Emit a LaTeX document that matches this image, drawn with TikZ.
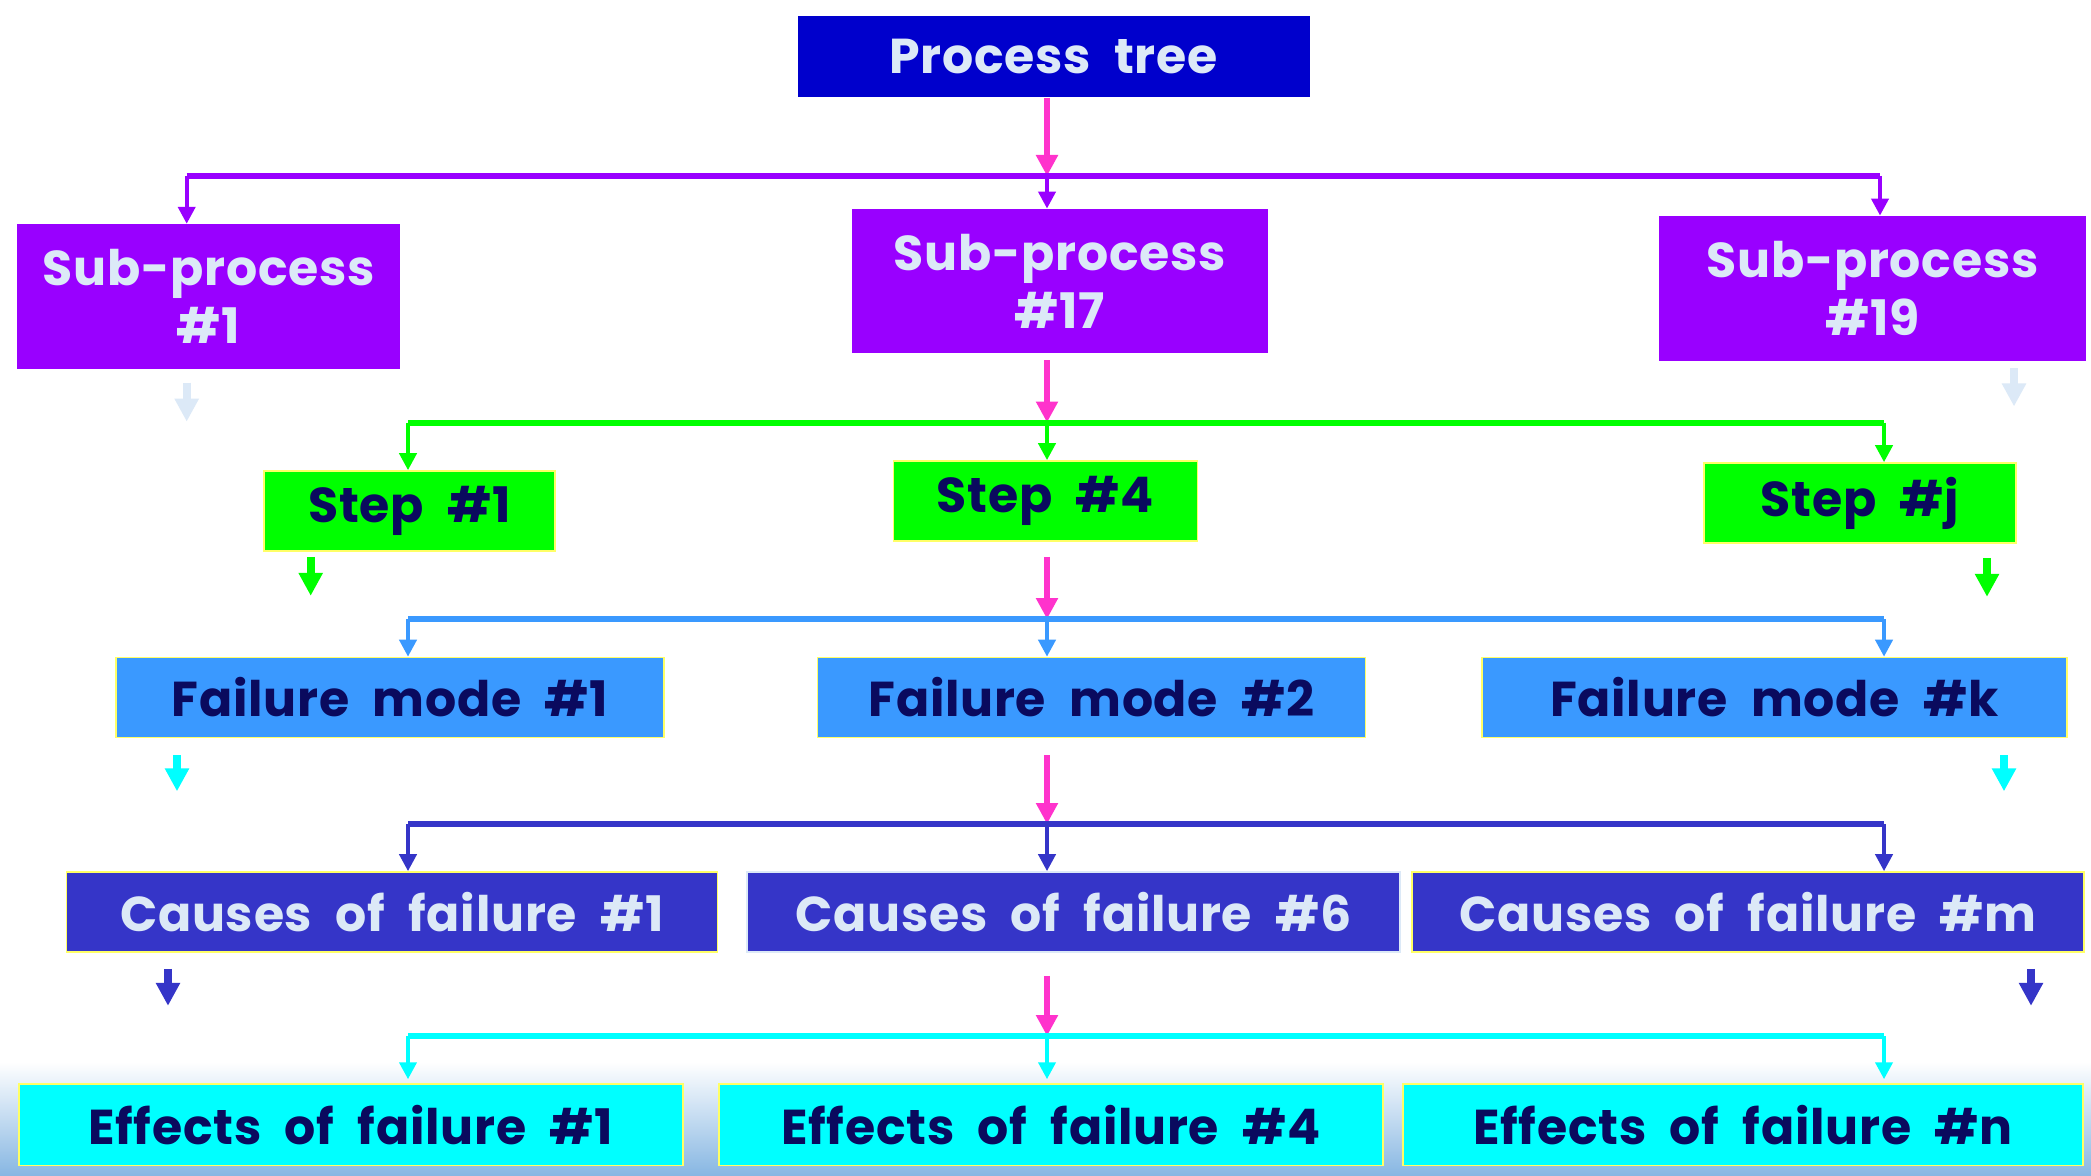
\documentclass[tikz,border=0pt]{standalone}
\usepackage{fontspec}
\setmainfont{Poppins}[WordSpace=2.1, LetterSpace=1.5]
\usetikzlibrary{arrows.meta}

\definecolor{ptblue}{HTML}{0000CC}
\definecolor{spviolet}{HTML}{9900FF}
\definecolor{stgreen}{HTML}{00FF00}
\definecolor{fmblue}{HTML}{3A99FF}
\definecolor{cfblue}{HTML}{3535C8}
\definecolor{efcyan}{HTML}{00FFFF}
\definecolor{lighttext}{HTML}{DCE9F7}
\definecolor{darktext}{HTML}{0A0A5E}
\definecolor{rimyellow}{HTML}{FFFF66}
\definecolor{linkpink}{HTML}{FF33CC}
\definecolor{skyfoot}{HTML}{86B6E2}

\tikzset{
  box/.style 2 args={inner sep=0pt, align=center,
    minimum width=#1*0.5pt, minimum height=#2*0.5pt,
    font=\fontsize{24.5}{29}\selectfont\bfseries},
  ptbox/.style={fill=ptblue, text=lighttext},
  spbox/.style={fill=spviolet, text=lighttext},
  stbox/.style={fill=stgreen, draw=rimyellow, line width=0.8pt, text=darktext},
  fmbox/.style={fill=fmblue, draw=rimyellow, line width=0.8pt, text=darktext},
  cfbox/.style={fill=cfblue, draw=rimyellow, line width=0.8pt, text=lighttext},
  efbox/.style={fill=efcyan, draw=rimyellow, line width=0.8pt, text=darktext},
  bus/.style={line width=3pt},
  feed/.style={draw=linkpink, line width=3pt,
    -{Triangle[length=10.5pt, width=10.5pt]}},
  drop/.style={line width=2pt, -{Triangle[length=8.5pt, width=8.5pt]}},
  stub/.style={line width=4pt, -{Triangle[length=11.5pt, width=11.5pt]}},
}

\begin{document}
\begin{tikzpicture}[x=0.5pt, y=-0.5pt]
  % canvas and the pale sky band along the foot
  \useasboundingbox (0,0) rectangle (2091,1176);
  \fill[white] (0,0) rectangle (2091,1176);
  \shade[top color=white, bottom color=skyfoot] (0,1062) rectangle (2091,1176);

  % ---- boxes ----
  \node[box={512}{81}, ptbox]  (pt)   at (1053.5,56.7) {Process tree};

  \node[box={383}{145}, spbox] (sp1)  at (208.7,296.7) {Sub-process\\\#1};
  \node[box={416}{144}, spbox] (sp17) at (1060,281)    {Sub-process\\\#17};
  \node[box={427}{145}, spbox] (sp19) at (1872.5,288.5){Sub-process\\\#19};

  \node[box={291}{80}, stbox]  (st1)  at (409.5,511)   {Step \#1};
  \node[box={304}{80}, stbox]  (st4)  at (1045.5,501)  {Step \#4};
  \node[box={312}{80}, stbox]  (stj)  at (1860,503)    {Step \#j};

  \node[box={548}{80}, fmbox]  (fm1)  at (390,697.5)   {Failure mode \#1};
  \node[box={548}{80}, fmbox]  (fm2)  at (1091.5,697.5){Failure mode \#2};
  \node[box={585}{80}, fmbox]  (fmk)  at (1774.3,697.5){Failure mode \#k};

  \node[box={651}{80}, cfbox]  (cf1)  at (392,912)     {Causes of failure \#1};
  \node[box={653}{80}, cfbox, draw=lighttext] (cf6) at (1073.4,912) {Causes of failure \#6};
  \node[box={672}{80}, cfbox]  (cfm)  at (1748,912)    {Causes of failure \#m};

  \node[box={664}{81.5}, efbox] (ef1) at (350.7,1124.8) {Effects of failure \#1};
  \node[box={664}{81.5}, efbox] (ef4) at (1050.9,1124.8){Effects of failure \#4};
  \node[box={680}{81.5}, efbox] (efn) at (1743,1124.8)  {Effects of failure \#n};

  % ---- bus rails (left end, centre tap, right end) ----
  \coordinate (aL) at (186.7,176);  \coordinate (aC) at (1047,176);  \coordinate (aR) at (1880,176);
  \coordinate (bL) at (408,422.5);  \coordinate (bC) at (1047,422.5); \coordinate (bR) at (1884,422.5);
  \coordinate (cL) at (408,619);    \coordinate (cC) at (1047,619);   \coordinate (cR) at (1884,619);
  \coordinate (dL) at (408,824);    \coordinate (dC) at (1047,824);   \coordinate (dR) at (1884,824);
  \coordinate (eL) at (408,1036);   \coordinate (eC) at (1047,1036);  \coordinate (eR) at (1884,1036);

  % level 1: process tree -> sub-processes
  \draw[feed] (pt.south -| aC) -- (aC);
  \draw[bus, spviolet] (aL) -- (aR);
  \draw[drop, spviolet] (aL) -- (aL |- sp1.north);
  \draw[drop, spviolet] (aC) -- (aC |- sp17.north);
  \draw[drop, spviolet] (aR) -- (aR |- sp19.north);
  \draw[stub, lighttext] ([yshift=-6.5pt]sp1.south -| aL) -- ++(0,39);
  \draw[stub, lighttext] ([yshift=-3.5pt]sp19.south -| 2014,0) -- ++(0,38);

  % level 2: sub-process -> steps
  \draw[feed] ([yshift=-3.5pt]sp17.south -| bC) -- (bC);
  \draw[bus, stgreen] (bL) -- (bR);
  \draw[drop, stgreen] (bL) -- (bL |- st1.north);
  \draw[drop, stgreen] (bC) -- (bC |- st4.north);
  \draw[drop, stgreen] (bR) -- (bR |- stj.north);
  \draw[stub, stgreen] ([yshift=-2.5pt]st1.south -| 310.7,0) -- ++(0,39);
  \draw[stub, stgreen] ([yshift=-7pt]stj.south -| 1987,0) -- ++(0,39);

  % level 3: step -> failure modes
  \draw[feed] ([yshift=-7.5pt]st4.south -| cC) -- (cC);
  \draw[bus, fmblue] (cL) -- (cR);
  \draw[drop, fmblue] (cL) -- (cL |- fm1.north);
  \draw[drop, fmblue] (cC) -- (cC |- fm2.north);
  \draw[drop, fmblue] (cR) -- (cR |- fmk.north);
  \draw[stub, efcyan] ([yshift=-8.5pt]fm1.south -| 177,0) -- ++(0,36);
  \draw[stub, efcyan] ([yshift=-8.5pt]fmk.south -| 2004,0) -- ++(0,36);

  % level 4: failure mode -> causes
  \draw[feed] ([yshift=-8.5pt]fm2.south -| dC) -- (dC);
  \draw[bus, cfblue] (dL) -- (dR);
  \draw[drop, cfblue] (dL) -- (dL |- cf1.north);
  \draw[drop, cfblue] (dC) -- (dC |- cf6.north);
  \draw[drop, cfblue] (dR) -- (dR |- cfm.north);
  \draw[stub, cfblue] ([yshift=-8pt]cf1.south -| 168,0) -- ++(0,37);
  \draw[stub, cfblue] ([yshift=-8pt]cfm.south -| 2031,0) -- ++(0,37);

  % level 5: causes -> effects
  \draw[feed] ([yshift=-11.5pt]cf6.south -| eC) -- (eC);
  \draw[bus, efcyan] (eL) -- (eR);
  \draw[drop, efcyan] (eL) -- ([yshift=2pt]eL |- ef1.north);
  \draw[drop, efcyan] (eC) -- ([yshift=2pt]eC |- ef4.north);
  \draw[drop, efcyan] (eR) -- ([yshift=2pt]eR |- efn.north);
\end{tikzpicture}
\end{document}
